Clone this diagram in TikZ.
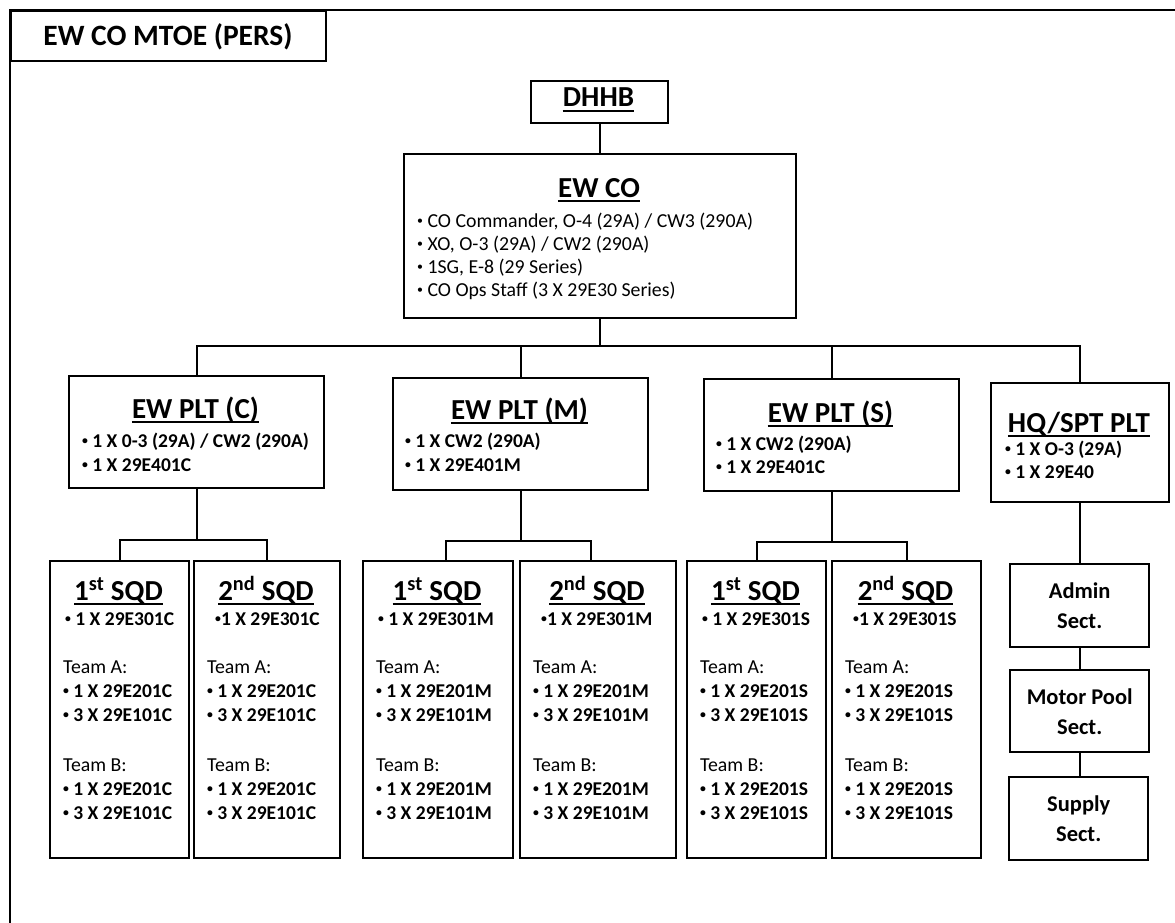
\documentclass[tikz,border=0pt]{standalone}
\usepackage{fontspec}
\setmainfont{Carlito}
\newcommand\bul{\raisebox{0.12em}{\scalebox{0.6}{•}}}
\tikzset{
  box/.style={draw, line width=2.4pt, rectangle, inner sep=0pt, fill=white},
  conn/.style={line width=2.4pt},
  ttlf/.style={font=\bfseries\fontsize{29}{34}\selectfont, inner xsep=0pt, inner ysep=0pt, anchor=base},
  bodyb/.style={font=\bfseries\fontsize{19.5}{23}\selectfont, inner sep=0pt, anchor=base west},
  bodyr/.style={font=\fontsize{19.8}{23}\selectfont, inner sep=0pt, anchor=base west},
  sect/.style={font=\bfseries\fontsize{22.5}{30}\selectfont, align=center, inner sep=0pt},
}
\newcommand\bx[5]{\node[box, anchor=north west, minimum width={(#4-#2)*1pt}, minimum height={(#5-#3)*1pt}] (#1) at (#2,#3) {};}
\newcommand\ttl[4]{\node[ttlf] (#1) at ({#2},#3) {#4};
  \draw[line width=2pt] ([yshift=-4pt]#1.base west) -- ([yshift=-4pt]#1.base east);}
\newcommand\squad[8]{%
  \bx{#1}{#2}{560}{#3}{857}
  \ttl{#1t}{(#2+#3)/2}{600}{#4\textsuperscript{#5} SQD}
  \node[bodyb] (#1a) at ({#2+#7},625) {\bul#81 X 29E301#6};
  \node[bodyr] (#1b) at ({#2+14},673) {Team A:};
  \node[bodyb] (#1c) at ({#2+14},697) {\bul\ 1 X 29E201#6};
  \node[bodyb] (#1d) at ({#2+14},721) {\bul\ 3 X 29E101#6};
  \node[bodyr] (#1e) at ({#2+14},771) {Team B:};
  \node[bodyb] (#1f) at ({#2+14},795) {\bul\ 1 X 29E201#6};
  \node[bodyb] (#1g) at ({#2+14},819) {\bul\ 3 X 29E101#6};
}
\begin{document}
\begin{tikzpicture}[x=1pt,y=-1pt]
\useasboundingbox[fill=white] (0,0) rectangle (1175,923);
% frame and title
\draw[line width=1.8pt] (10,923) -- (10,10) -- (1175,10);
\node[draw, line width=2pt, anchor=north west, minimum width=315pt, minimum height=50pt, inner sep=0pt] (titlebox) at (10,10) {};
\node[font=\bfseries\fontsize{29.5}{33}\selectfont, anchor=base, inner sep=0pt] (title) at (168,46) {EW CO MTOE (PERS)};
% DHHB and EW CO
\bx{dhhb}{530}{80}{667}{122}
\ttl{dhhbt}{598.5}{107}{DHHB}
\bx{ewco}{403}{153}{795}{317}
\ttl{ewcot}{599}{197}{EW CO}
\node[bodyr] (ewa) at (417,227) {\bul\ CO Commander, O-4 (29A) / CW3 (290A)};
\node[bodyr] (ewb) at (417,250) {\bul\ XO, O-3 (29A) / CW2 (290A)};
\node[bodyr] (ewc) at (417,273) {\bul\ 1SG, E-8 (29 Series)};
\node[bodyr] (ewd) at (417,296) {\bul\ CO Ops Staff (3 X 29E30 Series)};
% platoons
\bx{pltC}{68}{375}{323}{487}
\ttl{pltCt}{195.5}{418}{EW PLT (C)}
\node[bodyb] (pltCa) at (82,447) {\bul\ 1 X 0-3 (29A) / CW2 (290A)};
\node[bodyb] (pltCb) at (82,471) {\bul\ 1 X 29E401C};
\bx{pltM}{392}{377}{647}{489}
\ttl{pltMt}{519.5}{419}{EW PLT (M)}
\node[bodyb] (pltMa) at (405,447) {\bul\ 1 X CW2 (290A)};
\node[bodyb] (pltMb) at (405,471) {\bul\ 1 X 29E401M};
\bx{pltS}{703}{378}{958}{490}
\ttl{pltSt}{830.5}{422}{EW PLT (S)}
\node[bodyb] (pltSa) at (716,450) {\bul\ 1 X CW2 (290A)};
\node[bodyb] (pltSb) at (716,473) {\bul\ 1 X 29E401C};
\bx{hq}{990}{382}{1168}{501}
\ttl{hqt}{1079}{432}{HQ/SPT PLT}
\node[bodyb] (hqa) at (1005,455) {\bul\ 1 X O-3 (29A)};
\node[bodyb] (hqb) at (1005,478) {\bul\ 1 X 29E40};
% squads
\squad{c1}{49}{188}{1}{st}{C}{16}{\ }
\squad{c2}{193}{339}{2}{nd}{C}{22}{}
\squad{m1}{362}{512}{1}{st}{M}{16}{\ }
\squad{m2}{519}{675}{2}{nd}{M}{22}{}
\squad{s1}{686}{825}{1}{st}{S}{16}{\ }
\squad{s2}{831}{980}{2}{nd}{S}{22}{}
% sections
\bx{admin}{1009}{563}{1148}{646}
\node[sect] (admint) at (admin.center) {Admin\\Sect.};
\bx{motor}{1009}{669}{1148}{751}
\node[sect] (motort) at (motor.center) {Motor Pool\\Sect.};
\bx{supply}{1008}{776}{1147}{859}
\node[sect] (supplyt) at (supply.center) {Supply\\Sect.};
% connectors
\coordinate (bus) at (0,346);
\draw[conn] (dhhb.south) -- (dhhb.south |- ewco.north);
\draw[conn] (ewco.south) -- (ewco.south |- bus);
\draw[conn] (pltC.north) -- (pltC.north |- bus) -- (hq.north |- bus) -- (hq.north);
\draw[conn] (pltM.north) -- (pltM.north |- bus);
\draw[conn] (pltS.north) -- (pltS.north |- bus);
\draw[conn] (hq.south) -- (hq.south |- admin.north);
\draw[conn] (admin.south) -- (admin.south |- motor.north);
\draw[conn] (motor.south) -- (motor.south |- supply.north);
\coordinate (cb) at (0,540);
\draw[conn] (pltC.south) -- (pltC.south |- cb);
\draw[conn] (c1.north) -- (c1.north |- cb) -- (c2.north |- cb) -- (c2.north);
\coordinate (mb) at (0,541);
\coordinate (m1d) at ([xshift=8pt]m1.north);
\coordinate (m2d) at ([xshift=-7pt]m2.north);
\draw[conn] (pltM.south) -- (pltM.south |- mb);
\draw[conn] (m1d) -- (m1d |- mb) -- (m2d |- mb) -- (m2d);
\coordinate (sb) at (0,542);
\draw[conn] (pltS.south) -- (pltS.south |- sb);
\draw[conn] (s1.north) -- (s1.north |- sb) -- (s2.north |- sb) -- (s2.north);
\end{tikzpicture}
\end{document}
